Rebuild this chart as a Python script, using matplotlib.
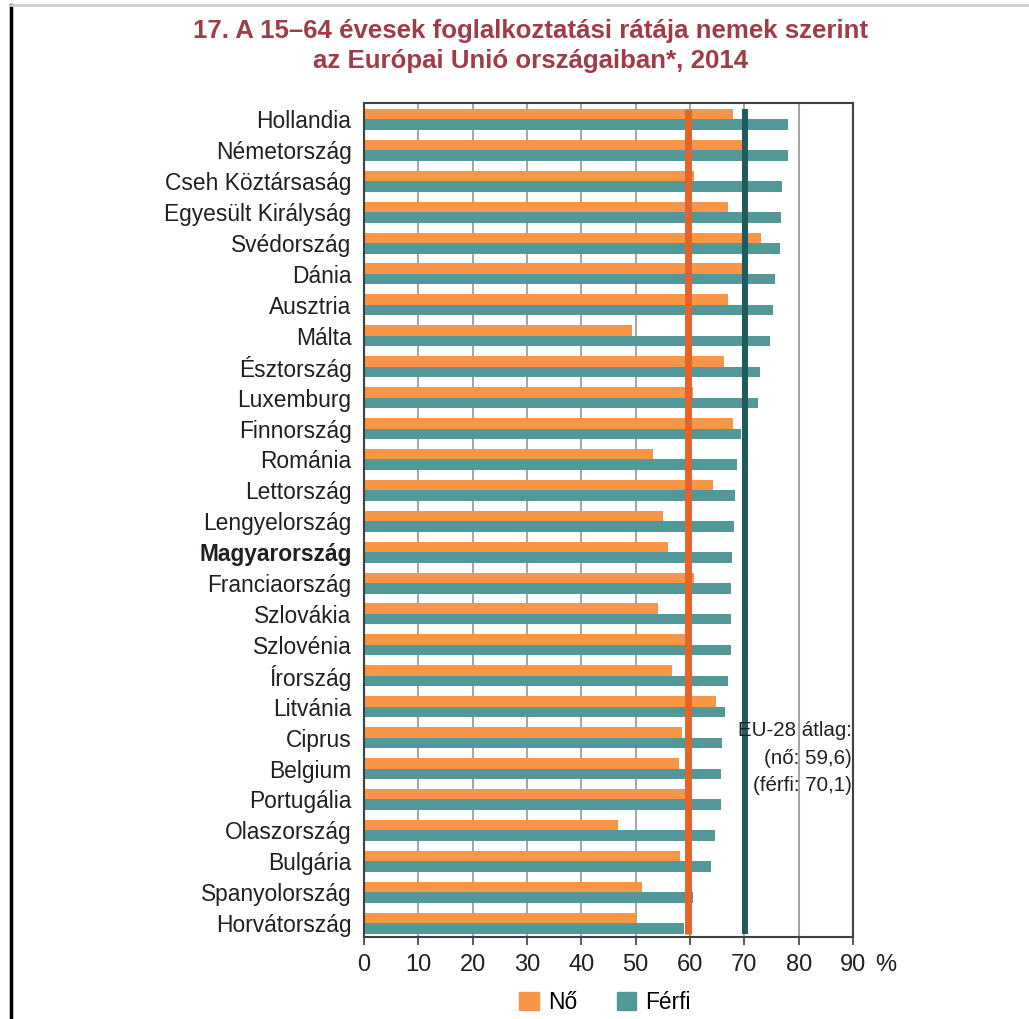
import matplotlib.pyplot as plt
from matplotlib.lines import Line2D
from matplotlib.patches import Patch
import numpy as np

plt.rcParams['font.family'] = ['Liberation Sans', 'DejaVu Sans']

# Data (employment rate, %, 2014)
countries = ["Hollandia", "Németország", "Cseh Köztársaság", "Egyesült Királyság",
             "Svédország", "Dánia", "Ausztria", "Málta", "Észtország", "Luxemburg",
             "Finnország", "Románia", "Lettország", "Lengyelország", "Magyarország",
             "Franciaország", "Szlovákia", "Szlovénia", "Írország", "Litvánia",
             "Ciprus", "Belgium", "Portugália", "Olaszország", "Bulgária",
             "Spanyolország", "Horvátország"]
no = [68.0, 69.5, 60.7, 67.0, 73.0, 69.7, 66.9, 49.3, 66.3, 60.5,
      68.0, 53.2, 64.3, 55.1, 55.9, 60.8, 54.2, 59.9, 56.6, 64.8,
      58.6, 57.9, 59.5, 46.8, 58.2, 51.2, 50.1]
ferfi = [78.1, 78.1, 77.0, 76.8, 76.5, 75.7, 75.2, 74.8, 72.9, 72.5,
         69.4, 68.6, 68.3, 68.1, 67.7, 67.6, 67.5, 67.5, 66.9, 66.4,
         65.9, 65.7, 65.7, 64.6, 63.8, 60.6, 58.9]
avg_no = 59.6
avg_ferfi = 70.1
xticks = [0, 10, 20, 30, 40, 50, 60, 70, 80, 90]

c_no = '#f79646'
c_ferfi = '#529899'
c_text = '#231f20'

fig = plt.figure(figsize=(10.29, 10.19), dpi=100)
ax = fig.add_axes([0.3537, 0.0805, 0.8290 - 0.3537, 0.8989 - 0.0805])

y = np.arange(len(countries))
h = 0.34
ax.barh(y - h / 2, no, height=h, color=c_no, zorder=2)
ax.barh(y + h / 2, ferfi, height=h, color=c_ferfi, zorder=2)

# EU-28 averages
ax.vlines(avg_no, -h, len(countries) - 1 + h, color='#e4642c', lw=5, zorder=3)
ax.vlines(avg_ferfi, -h, len(countries) - 1 + h, color='#1f5b5e', lw=4.3, zorder=3)

ax.set_xlim(0, 90)
ax.set_ylim(len(countries) - 0.55, -0.53)
ax.set_xticks(xticks)
ax.set_xticklabels([str(t) for t in xticks], fontsize=17, color=c_text)
ax.set_yticks(y)
ax.set_yticklabels(countries, fontsize=16.4, color=c_text)
ax.get_yticklabels()[countries.index("Magyarország")].set_fontweight('bold')
ax.tick_params(axis='y', length=0, pad=9)
ax.tick_params(axis='x', length=6, width=1.2, color='#404040', pad=6)
ax.xaxis.grid(True, color='#a6a6a6', lw=1.5, zorder=0)
ax.set_axisbelow(True)
for s in ax.spines.values():
    s.set_color('#404040')
    s.set_linewidth(1.5)

ax.text(1.066, -0.021, '%', transform=ax.transAxes, fontsize=17, color=c_text,
        ha='center', va='top')

ax.text(89.7, 20.66, 'EU-28 átlag:\n(nő: 59,6)\n(férfi: 70,1)', ha='right', va='center',
        fontsize=14.8, color=c_text, linespacing=1.58, zorder=4)

fig.text(0.516, 0.955, '17. A 15–64 évesek foglalkoztatási rátája nemek szerint\n'
         'az Európai Unió országaiban*, 2014', ha='center', va='center',
         fontsize=18.6, fontweight='bold', color='#a23b48', linespacing=1.32)

handles = [Patch(color=c_no, label='Nő'), Patch(color=c_ferfi, label='Férfi')]
fig.legend(handles=handles, loc='center', bbox_to_anchor=(0.588, 0.016), ncol=2,
           frameon=False, fontsize=16.4, handlelength=0.85, handleheight=0.85,
           handletextpad=0.4, columnspacing=1.75)

# page border remnants from the screenshot
fig.add_artist(Line2D([0.0105, 0.0105], [0, 0.995], color='black', lw=2.5))
fig.add_artist(Line2D([0.0105, 1], [0.995, 0.995], color='#cfcfcf', lw=2))

fig.savefig('out.png', dpi=100)
